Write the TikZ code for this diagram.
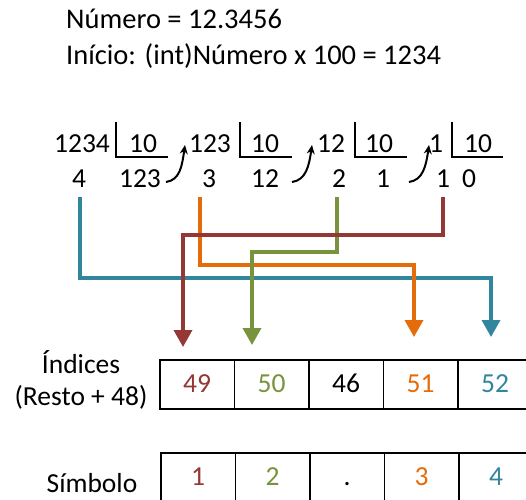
\documentclass[tikz,border=0pt]{standalone}
\usepackage{fontspec}
\setmainfont{Carlito}
\usetikzlibrary{arrows.meta}
\definecolor{cteal}{HTML}{31859C}
\definecolor{corange}{HTML}{E46C0A}
\definecolor{cgreen}{HTML}{77933C}
\definecolor{cred}{HTML}{953735}
\begin{document}
\begin{tikzpicture}[x=1pt,y=-1pt,
  every node/.style={inner sep=0pt, font=\fontsize{27.5}{33}\selectfont},
  txt/.style={anchor=base},
  bracket/.style={line width=1.9pt},
  hook/.style={line width=2pt, -{Stealth[length=9pt,width=8pt]}},
  conn/.style={line width=3.5pt, line join=miter, -{Triangle[width=18pt,length=17pt]}},
  cell/.style={draw, line width=1.8pt, anchor=north west, minimum width=74.5pt, minimum height=49pt, text height=17pt, text depth=0pt},
  ]
\useasboundingbox (0,0) rectangle (526,499);
\clip (0,0) rectangle (526,499);
% titles
\node[anchor=base west, font=\fontsize{28.5}{33}\selectfont] (t1) at (66,28) {Número = 12.3456};
\node[anchor=base west, font=\fontsize{28.5}{33}\selectfont] (t2) at (66,64) {Início: (int)Número x 100 = 1234};
% division row
\node[txt] (n1) at (82,152) {1234};
\node[txt] (d1) at (143,152) {10};
\node[txt] (n2) at (210,152) {123};
\node[txt] (d2) at (265,152) {10};
\node[txt] (n3) at (331,152) {12};
\node[txt] (d3) at (379,152) {10};
\node[txt] (n4) at (436,152) {1};
\node[txt] (d4) at (478,152) {10};
\node[txt] (r4) at (79,187) {4};
\node[txt] (q1) at (140,187) {123};
\node[txt] (r3) at (209,187) {3};
\node[txt] (q2) at (265,187) {12};
\node[txt] (r2) at (339,187) {2};
\node[txt] (q3) at (383,187) {1};
\node[txt] (r1) at (443,187) {1};
\node[txt] (q4) at (469,187) {0};
% brackets
\draw[bracket] (116,122) -- (116,157) -- (168,157);
\draw[bracket] (240,122) -- (240,157) -- (292,157);
\draw[bracket] (355,122) -- (355,157) -- (407,157);
\draw[bracket] (452,122) -- (452,157) -- (503,157);
% hook arrows
\coordinate (h1a) at (166,182); \coordinate (h1b) at (185,145);
\coordinate (h2a) at (292,182); \coordinate (h2b) at (312,145);
\coordinate (h3a) at (409,182); \coordinate (h3b) at (429,145);
\draw[hook] (h1a) .. controls (180,180) and (182,166) .. (h1b);
\draw[hook] (h2a) .. controls (306,180) and (309,166) .. (h2b);
\draw[hook] (h3a) .. controls (423,180) and (426,166) .. (h3b);
% tables
\foreach \i/\v/\c in {0/49/cred,1/50/cgreen,2/46/black,3/51/corange,4/52/cteal}{
  \node[cell, text=\c] (a\v) at (159+74.5*\i,359) {\v};
}
\foreach \i/\v/\c/\n in {0/1/cred/s1,1/2/cgreen/s2,2/./black/s3,3/3/corange/s4,4/4/cteal/s5}{
  \node[cell, text=\c] (\n) at (160+74.5*\i,452) {\v};
}
\node[txt] (l1) at (81,373) {Índices};
\node[txt] (l2) at (81,405) {(Resto + 48)};
\node[txt] (l3) at (92,492) {Símbolo};
% colored connectors
\coordinate (s4b) at (80,197);  \coordinate (e52) at (491,337);
\coordinate (s3b) at (200,197); \coordinate (e51) at (414,337);
\coordinate (s2b) at (337,197); \coordinate (e50) at (252,345);
\coordinate (s1b) at (443,197); \coordinate (e49) at (183,347);
\draw[conn, cteal] (s4b) |- (491,278) -- (e52);
\draw[conn, corange] (s3b) |- (414,265) -- (e51);
\draw[conn, cgreen] (s2b) |- (252,252) -- (e50);
\draw[conn, cred] (s1b) |- (183,235) -- (e49);
\end{tikzpicture}
\end{document}
